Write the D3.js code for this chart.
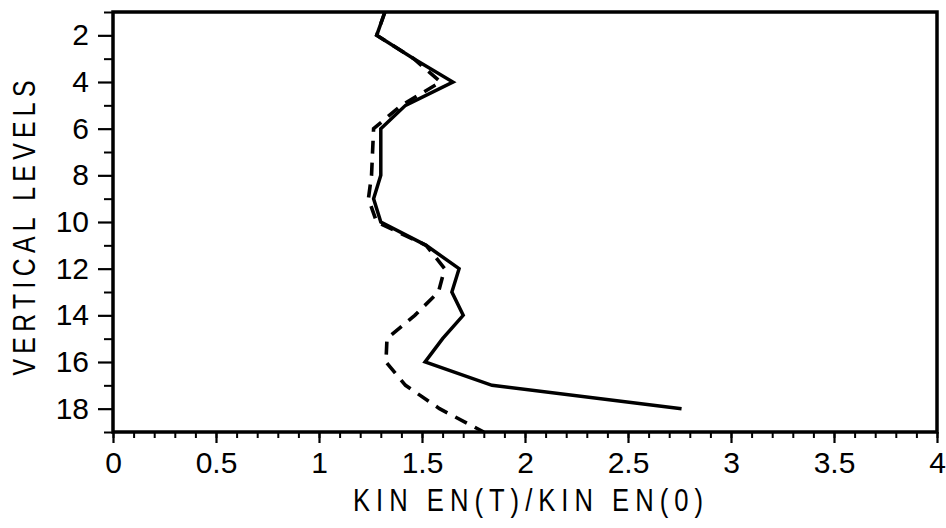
<!DOCTYPE html>
<html>
<head>
<meta charset="utf-8">
<script src="https://cdn.jsdelivr.net/npm/d3@7"></script>
<style>
html,body{margin:0;padding:0;background:#fff;}
svg{display:block;}
</style>
</head>
<body>
<svg id="chart" width="946" height="528"></svg>
<script>
// ---- data ----
const levelsSolid = [1,2,3,4,5,6,7,8,9,10,11,12,13,14,15,16,17,18];
const solidValues = [1.32,1.28,1.46,1.65,1.42,1.30,1.30,1.30,1.265,1.30,1.52,1.68,1.645,1.70,1.60,1.515,1.84,2.76];
const levelsDashed = [1,2,3,4,5,6,7,8,9,10,11,12,13,14,15,16,17,18,19];
const dashedValues = [1.32,1.28,1.46,1.59,1.40,1.265,1.26,1.255,1.24,1.28,1.52,1.61,1.58,1.465,1.33,1.325,1.42,1.585,1.80];
const xMajorTicks = [0,0.5,1,1.5,2,2.5,3,3.5,4];
const xTickLabels = ["0","0.5","1","1.5","2","2.5","3","3.5","4"];
const yMajorTicks = [2,4,6,8,10,12,14,16,18];
const yMinorTicks = [1,3,5,7,9,11,13,15,17,19];
const xLabel = "KIN EN(T)/KIN EN(0)";
const yLabel = "VERTICAL LEVELS";

// ---- layout ----
const svg = d3.select("#chart");
const L = 113, R = 937, T = 12, B = 432;
const x = d3.scaleLinear().domain([0,4]).range([L,R]);
const y = d3.scaleLinear().domain([1,19]).range([T,B]);
const font = "'Liberation Sans', Arial, sans-serif";

// minor x ticks
const xMinor = d3.range(0, 40.5, 1).map(d => d/10);
svg.append("g").attr("transform",`translate(0,${B})`)
  .call(d3.axisBottom(x).tickValues(xMinor).tickSize(6).tickFormat(""))
  .call(g => { g.select(".domain").remove(); g.selectAll("line").attr("stroke","#000").attr("stroke-width",2); });

// major x ticks
svg.append("g").attr("transform",`translate(0,${B})`)
  .call(d3.axisBottom(x).tickValues(xMajorTicks).tickSize(11).tickPadding(9)
        .tickFormat((d,i) => xTickLabels[i]))
  .call(g => {
    g.select(".domain").remove();
    g.selectAll("line").attr("stroke","#000").attr("stroke-width",2.2);
    g.selectAll("text").attr("font-family",font).attr("font-size",30).attr("fill","#000");
  });

// minor y ticks
svg.append("g").attr("transform",`translate(${L},0)`)
  .call(d3.axisLeft(y).tickValues(yMinorTicks).tickSize(9).tickFormat(""))
  .call(g => { g.select(".domain").remove(); g.selectAll("line").attr("stroke","#000").attr("stroke-width",2); });

// major y ticks
svg.append("g").attr("transform",`translate(${L},0)`)
  .call(d3.axisLeft(y).tickValues(yMajorTicks).tickSize(15).tickPadding(9).tickFormat(d3.format("d")))
  .call(g => {
    g.select(".domain").remove();
    g.selectAll("line").attr("stroke","#000").attr("stroke-width",2.2);
    g.selectAll("text").attr("font-family",font).attr("font-size",30).attr("fill","#000");
  });

// lines
const line = d3.line().x(d => x(d[0])).y(d => y(d[1]));
svg.append("path")
  .datum(solidValues.map((v,i) => [v, levelsSolid[i]]))
  .attr("d", line).attr("fill","none").attr("stroke","#000")
  .attr("stroke-width",3.5).attr("stroke-linejoin","miter");
svg.append("path")
  .datum(dashedValues.map((v,i) => [v, levelsDashed[i]]))
  .attr("d", line).attr("fill","none").attr("stroke","#000")
  .attr("stroke-width",3.6).attr("stroke-dasharray","13,9");

// frame
svg.append("rect").attr("x",L).attr("y",T).attr("width",R-L).attr("height",B-T)
  .attr("fill","none").attr("stroke","#000").attr("stroke-width",3.5);

// axis titles (narrow glyphs, spaced out like the plotter font)
svg.append("text").attr("transform","translate(528,511) scale(0.8,1)").attr("text-anchor","middle")
  .attr("font-family",font).attr("font-size",32).attr("fill","#000")
  .attr("textLength",350/0.8).attr("lengthAdjust","spacing").text(xLabel);
svg.append("text").attr("transform","translate(35,228) rotate(-90) scale(0.8,1)").attr("text-anchor","middle")
  .attr("font-family",font).attr("font-size",31).attr("fill","#000")
  .attr("textLength",295/0.8).attr("lengthAdjust","spacing").text(yLabel);
</script>
</body>
</html>
